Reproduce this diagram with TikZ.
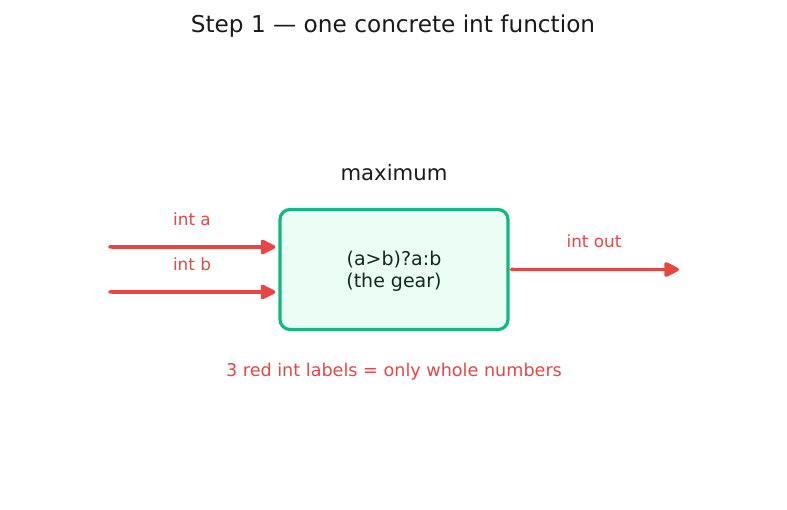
\documentclass[tikz,border=0pt]{standalone}
\usepackage{fontspec}
\setmainfont{DejaVu Sans}
\usetikzlibrary{arrows.meta}
\definecolor{redc}{HTML}{E84545}
\definecolor{greenc}{HTML}{10B981}
\definecolor{greenfill}{HTML}{ECFDF5}
\definecolor{darkc}{HTML}{1A1A1A}
\definecolor{boxtext}{HTML}{0F2A1F}
\tikzset{
  wire/.style={draw=redc, line width=3.5pt, {Round Cap[]}-{Triangle[length=17pt,width=16pt,round]}},
  gearbox/.style={draw=greenc, fill=greenfill, line width=3.2pt, rounded corners=10pt,
    minimum width=228pt, minimum height=120pt, inner sep=0pt, align=center,
    text=boxtext, font=\fontsize{19}{22.5}\selectfont},
  redlabel/.style={text=redc, font=\fontsize{16.8}{20}\selectfont, inner sep=0pt},
}
\begin{document}
\begin{tikzpicture}[x=1pt,y=-1pt]
\useasboundingbox (0,0) rectangle (787,510);
\node[text=darkc, font=\fontsize{23.2}{28}\selectfont, inner sep=0pt] (title) at (393,26) {Step 1 — one concrete int function};
\node[text=darkc, font=\fontsize{21.2}{25}\selectfont, inner sep=0pt] (name) at (394,172.5) {maximum};
\node[gearbox] (box) at (394,269.5) {};
\node[text=boxtext, font=\fontsize{19}{22.5}\selectfont, align=center, inner sep=0pt] (gear) at (394,271.5) {(a>b)?a:b\\(the gear)};
\coordinate (ina) at (108,247);
\coordinate (inb) at (108,292);
\coordinate (outc) at (679,269.5);
\draw[wire, shorten >=3pt] (ina) -- (ina -| box.west);
\draw[wire, shorten >=3pt] (inb) -- (inb -| box.west);
\draw[wire] (box.east) -- (outc);
\node[redlabel] (la) at (192,219.5) {int a};
\node[redlabel] (lb) at (192,264.5) {int b};
\node[redlabel] (lo) at (594,241.5) {int out};
\node[redlabel, font=\fontsize{17.6}{21}\selectfont] (note) at (394,372) {3 red int labels = only whole numbers};
\end{tikzpicture}
\end{document}
